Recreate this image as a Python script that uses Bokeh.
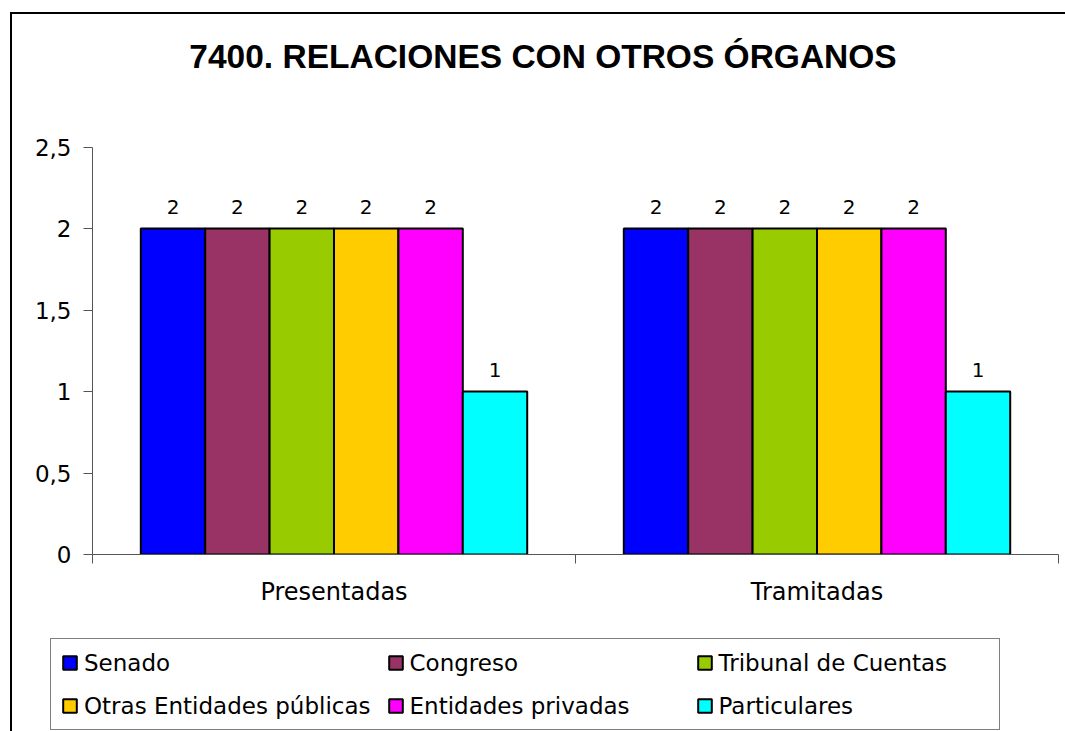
from bokeh.plotting import figure
from bokeh.models import (Range1d, FixedTicker, Legend, LegendItem, Label)
from bokeh.layouts import column
from bokeh.transform import dodge
from bokeh.core.properties import value
from bokeh.embed import file_html
from bokeh.resources import INLINE

# ---- data ----
groups = ["Presentadas", "Tramitadas"]
series = ["Senado", "Congreso", "Tribunal de Cuentas", "Otras Entidades públicas",
          "Entidades privadas", "Particulares"]
colors = ["#0000FF", "#993366", "#99CC00", "#FFCC00", "#FF00FF", "#00FFFF"]
presentadas = [2, 2, 2, 2, 2, 1]
tramitadas = [2, 2, 2, 2, 2, 1]
y_ticks = [0, 0.5, 1, 1.5, 2, 2.5]
y_tick_labels = ["0", "0,5", "1", "1,5", "2", "2,5"]
title_text = "7400. RELACIONES CON OTROS ÓRGANOS"

FONT = "DejaVu Sans"
TFONT = "Liberation Sans"

# category slots on a linear scale: centre of slot i is i + 0.5
centres = [i + 0.5 for i in range(len(groups))]
bounds = list(range(len(groups) + 1))

# ---- layout numbers (pixels) ----
W = 1053
CH = 606            # chart figure height
FRAME_H = 540       # frame height (top of canvas down to the x axis)
AX_TOP = 132.5      # pixel row of the axis maximum inside the frame
y_top = y_ticks[-1] * FRAME_H / (FRAME_H - AX_TOP)

p = figure(width=W, height=CH, output_backend="svg", toolbar_location=None,
           x_range=Range1d(0, len(groups)), y_range=Range1d(0, y_top),
           min_border_left=80, min_border_right=7,
           min_border_top=0, min_border_bottom=CH - FRAME_H)
p.frame_align = False
p.outline_line_color = None
p.grid.visible = False
p.background_fill_color = "white"
p.border_fill_color = "white"

# title (inside the frame, above the axis maximum)
p.add_layout(Label(x=450.5, y=FRAME_H - 42, x_units="screen", y_units="screen",
                   text=title_text, text_font=TFONT, text_font_size="33.5px",
                   text_font_style="bold", text_color="black",
                   text_align="center", text_baseline="alphabetic"))

# bars
n = len(series)
bw = 0.8 / n
items = []
sources = []
for i, (s, c) in enumerate(zip(series, colors)):
    vals = [presentadas[i], tramitadas[i]]
    src = dict(x=centres, top=vals, lab=[str(v) for v in vals])
    sources.append(src)
    off = (i - (n - 1) / 2) * bw
    p.vbar(x=dodge("x", off), top="top", width=bw, source=src,
           fill_color=c, line_color="black", line_width=2)
    p.text(x=dodge("x", off), y="top", text="lab", source=src,
           text_align="center", text_baseline="alphabetic", y_offset=-22,
           text_font=value(FONT), text_font_size="20px", text_color="black")

# y axis
ya = p.yaxis[0]
ya.ticker = FixedTicker(ticks=y_ticks)
ya.bounds = (y_ticks[0], y_ticks[-1])
ya.major_label_overrides = {t: l for t, l in zip(y_ticks, y_tick_labels)}
ya.major_label_text_font = FONT
ya.major_label_text_font_size = "23px"
ya.major_label_text_color = "black"
ya.major_label_standoff = 12
ya.major_tick_out = 9
ya.major_tick_in = 0
ya.minor_tick_line_color = None
ya.axis_line_color = "#555555"
ya.major_tick_line_color = "#555555"

# x axis: category labels at centres, separator ticks between categories
xa = p.xaxis[0]
xa.ticker = FixedTicker(ticks=centres, minor_ticks=bounds)
xa.major_label_overrides = {c: g for c, g in zip(centres, groups)}
xa.major_tick_out = 0
xa.major_tick_in = 0
xa.minor_tick_out = 9
xa.minor_tick_in = 0
xa.minor_tick_line_color = "#555555"
xa.axis_line_color = "#555555"
xa.major_label_text_font = FONT
xa.major_label_text_font_size = "24px"
xa.major_label_text_color = "black"
xa.major_label_standoff = 14

# ---- legend strip (same series, glyphs hidden; only the legend is shown) ----
pl = figure(width=W, height=717 - CH, output_backend="svg", toolbar_location=None,
            x_range=Range1d(0, len(groups)), y_range=Range1d(0, y_top),
            x_axis_location=None, y_axis_location=None,
            min_border=0, min_border_left=0, min_border_right=0,
            min_border_top=0, min_border_bottom=0)
pl.frame_align = False
pl.outline_line_color = None
pl.grid.visible = False
for i, (s, c) in enumerate(zip(series, colors)):
    off = (i - (n - 1) / 2) * bw
    r = pl.vbar(x=dodge("x", off), top="top", width=bw, source=sources[i],
                fill_color=c, line_color="black", line_width=2, visible=False)
    items.append(LegendItem(label=s, renderers=[r]))

leg = Legend(items=items, orientation="horizontal", ncols=3, location=(38, 1),
             label_text_font=FONT, label_text_font_size="23px", label_text_color="black",
             glyph_width=17, glyph_height=17, label_standoff=6, label_height=27,
             label_width=270, spacing=16, padding=10, margin=0, click_policy="none",
             border_line_color="black", border_line_width=1.5,
             background_fill_alpha=1)
pl.add_layout(leg, "center")

layout = column(p, pl, spacing=0, margin=(12, 0, 0, 10),
                styles={"border-left": "2px solid black", "border-top": "2px solid black"})

open("out.html", "w").write(file_html(layout, INLINE))
